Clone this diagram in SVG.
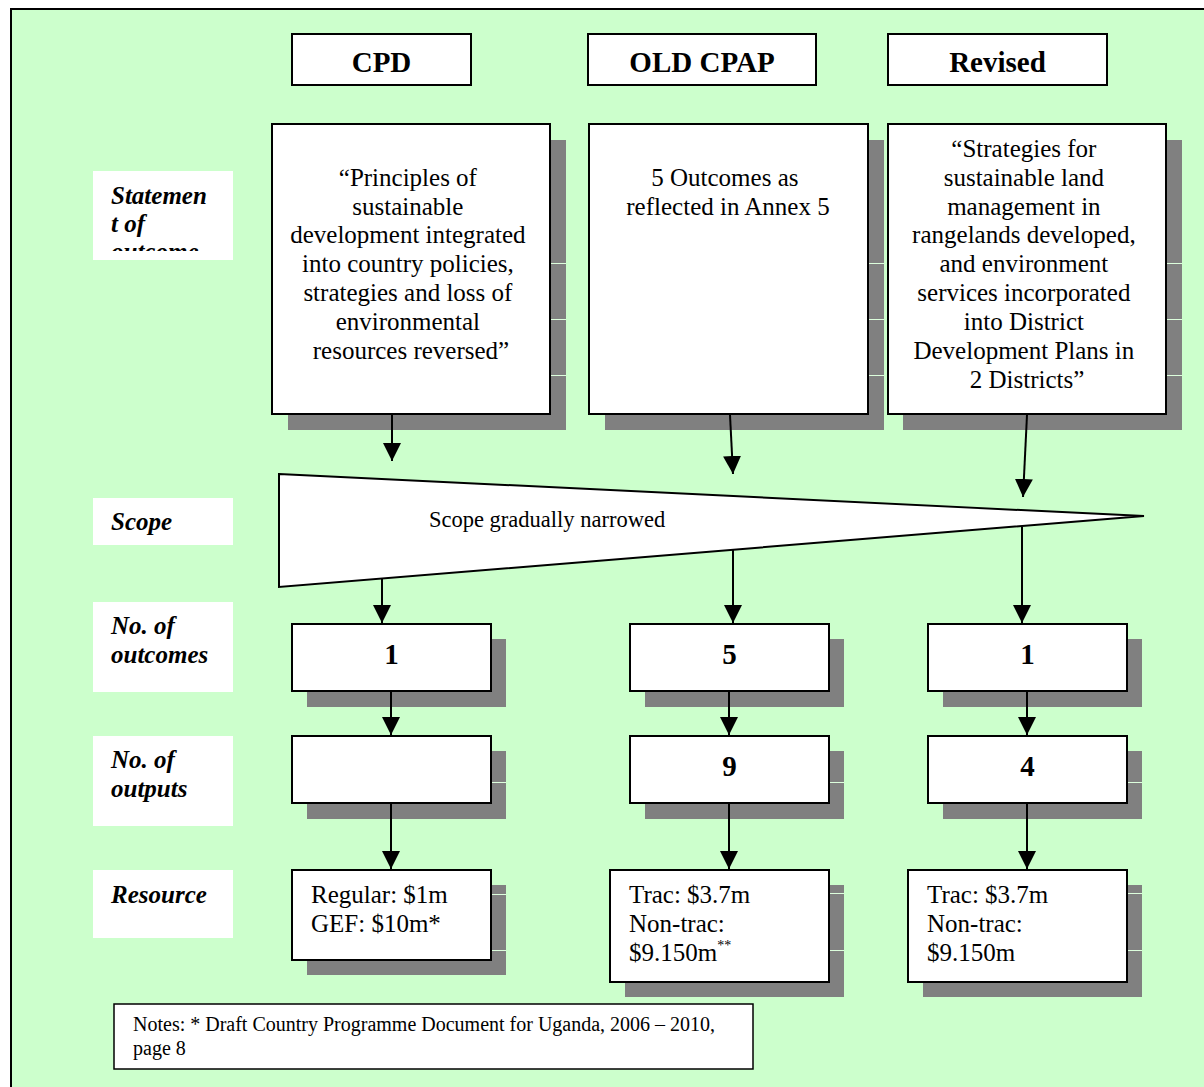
<svg xmlns="http://www.w3.org/2000/svg" width="1204" height="1087" viewBox="0 0 1204 1087">
  <defs>
    <marker id="arrow" viewBox="0 0 18 18" refX="18" refY="9" markerWidth="18" markerHeight="18" markerUnits="userSpaceOnUse" orient="auto">
      <path d="M0,0 L18,9 L0,18 z" fill="#000"/>
    </marker>
    <clipPath id="clipStatement">
      <rect x="93" y="171" width="140" height="80"/>
    </clipPath>
  </defs>
  <style>
    .box { fill: #fff; stroke: #000; stroke-width: 2; }
    .shadow { fill: #808080; }
    .seam { stroke: #ddffdd; stroke-width: 1; }
    .label { fill: #fff; }
    .head { font-family: "Liberation Serif", "Times New Roman", serif; font-size: 29px; font-weight: bold; text-anchor: middle; fill: #000; }
    .body { font-family: "Liberation Serif", "Times New Roman", serif; font-size: 25px; fill: #000; }
    .mid { text-anchor: middle; }
    .lab { font-family: "Liberation Serif", "Times New Roman", serif; font-size: 25px; font-weight: bold; font-style: italic; fill: #000; }
    .num { font-family: "Liberation Serif", "Times New Roman", serif; font-size: 29px; font-weight: bold; text-anchor: middle; fill: #000; }
    .small { font-family: "Liberation Serif", "Times New Roman", serif; font-size: 20px; fill: #000; }
    .conn { stroke: #000; stroke-width: 2; fill: none; marker-end: url(#arrow); }
  </style>

  <!-- page background and frame -->
  <rect x="0" y="0" width="1204" height="1087" fill="#fff"/>
  <rect x="11" y="9" width="1205" height="1090" fill="#ccffcc" stroke="#000" stroke-width="2"/>

  <!-- column headers -->
  <g id="head-cpd">
    <rect class="box" x="292" y="34" width="179" height="51"/>
    <text class="head" x="381.5" y="72">CPD</text>
  </g>
  <g id="head-old-cpap">
    <rect class="box" x="588" y="34" width="228" height="51"/>
    <text class="head" x="702" y="72">OLD CPAP</text>
  </g>
  <g id="head-revised">
    <rect class="box" x="888" y="34" width="219" height="51"/>
    <text class="head" x="997.5" y="72">Revised</text>
  </g>

  <!-- row labels -->
  <g id="label-statement">
    <rect class="label" x="93" y="171" width="140" height="89"/>
    <g clip-path="url(#clipStatement)">
      <text class="lab" x="111" y="204">Statemen</text>
      <text class="lab" x="111" y="232">t of</text>
      <text class="lab" x="111" y="260">outcome</text>
    </g>
  </g>
  <g id="label-scope">
    <rect class="label" x="93" y="498" width="140" height="47"/>
    <text class="lab" x="111" y="530">Scope</text>
  </g>
  <g id="label-outcomes">
    <rect class="label" x="93" y="602" width="140" height="90"/>
    <text class="lab" x="111" y="634">No. of</text>
    <text class="lab" x="111" y="663">outcomes</text>
  </g>
  <g id="label-outputs">
    <rect class="label" x="93" y="736" width="140" height="90"/>
    <text class="lab" x="111" y="768">No. of</text>
    <text class="lab" x="111" y="797">outputs</text>
  </g>
  <g id="label-resource">
    <rect class="label" x="93" y="870" width="140" height="68"/>
    <text class="lab" x="111" y="903">Resource</text>
  </g>

  <!-- statement of outcome boxes -->
  <g id="statement-cpd">
    <rect class="shadow" x="288" y="140" width="278" height="290"/>
    <line class="seam" x1="551" y1="263.5" x2="566" y2="263.5"/>
    <line class="seam" x1="551" y1="319.5" x2="566" y2="319.5"/>
    <line class="seam" x1="551" y1="375.5" x2="566" y2="375.5"/>
    <rect class="box" x="272" y="124" width="278" height="290"/>
    <text class="body mid" x="411">
      <tspan x="411" y="186">“Principles of</tspan>
      <tspan x="411" y="215">sustainable</tspan>
      <tspan x="411" y="243">development integrated</tspan>
      <tspan x="411" y="272">into country policies,</tspan>
      <tspan x="411" y="301">strategies and loss of</tspan>
      <tspan x="411" y="330">environmental</tspan>
      <tspan x="411" y="359">resources reversed”</tspan>
    </text>
  </g>
  <g id="statement-old-cpap">
    <rect class="shadow" x="605" y="140" width="279" height="290"/>
    <line class="seam" x1="869" y1="263.5" x2="884" y2="263.5"/>
    <line class="seam" x1="869" y1="319.5" x2="884" y2="319.5"/>
    <line class="seam" x1="869" y1="375.5" x2="884" y2="375.5"/>
    <rect class="box" x="589" y="124" width="279" height="290"/>
    <text class="body mid" x="728">
      <tspan x="728" y="186">5 Outcomes as</tspan>
      <tspan x="728" y="215">reflected in Annex 5</tspan>
    </text>
  </g>
  <g id="statement-revised">
    <rect class="shadow" x="903" y="140" width="279" height="290"/>
    <line class="seam" x1="1167" y1="263.5" x2="1182" y2="263.5"/>
    <line class="seam" x1="1167" y1="319.5" x2="1182" y2="319.5"/>
    <line class="seam" x1="1167" y1="375.5" x2="1182" y2="375.5"/>
    <rect class="box" x="888" y="124" width="278" height="290"/>
    <text class="body mid" x="1027">
      <tspan x="1027" y="157">“Strategies for</tspan>
      <tspan x="1027" y="186">sustainable land</tspan>
      <tspan x="1027" y="215">management in</tspan>
      <tspan x="1027" y="243">rangelands developed,</tspan>
      <tspan x="1027" y="272">and environment</tspan>
      <tspan x="1027" y="301">services incorporated</tspan>
      <tspan x="1027" y="330">into District</tspan>
      <tspan x="1027" y="359">Development Plans in</tspan>
      <tspan x="1027" y="388">2 Districts”</tspan>
    </text>
  </g>

  <!-- narrowing scope wedge -->
  <g id="scope">
    <polygon points="279,474 1144,516 279,587" fill="#fff" stroke="#000" stroke-width="2" stroke-linejoin="miter"/>
    <text x="429" y="527" font-family="Liberation Serif, Times New Roman, serif" font-size="22.5" fill="#000">Scope gradually narrowed</text>
  </g>

  <!-- number of outcomes -->
  <g id="outcomes-cpd">
    <rect class="shadow" x="307" y="639" width="199" height="68"/>
    <rect class="box" x="292" y="624" width="199" height="67"/>
    <text class="num" x="391.5" y="664">1</text>
  </g>
  <g id="outcomes-old-cpap">
    <rect class="shadow" x="645" y="639" width="199" height="68"/>
    <rect class="box" x="630" y="624" width="199" height="67"/>
    <text class="num" x="729.5" y="664">5</text>
  </g>
  <g id="outcomes-revised">
    <rect class="shadow" x="943" y="639" width="199" height="68"/>
    <rect class="box" x="928" y="624" width="199" height="67"/>
    <text class="num" x="1027.5" y="664">1</text>
  </g>

  <!-- number of outputs -->
  <g id="outputs-cpd">
    <rect class="shadow" x="307" y="751" width="199" height="68"/>
    <line class="seam" x1="492" y1="782.5" x2="506" y2="782.5"/>
    <rect class="box" x="292" y="736" width="199" height="67"/>
  </g>
  <g id="outputs-old-cpap">
    <rect class="shadow" x="645" y="751" width="199" height="68"/>
    <line class="seam" x1="830" y1="782.5" x2="844" y2="782.5"/>
    <rect class="box" x="630" y="736" width="199" height="67"/>
    <text class="num" x="729.5" y="776">9</text>
  </g>
  <g id="outputs-revised">
    <rect class="shadow" x="943" y="751" width="199" height="68"/>
    <line class="seam" x1="1128" y1="782.5" x2="1142" y2="782.5"/>
    <rect class="box" x="928" y="736" width="199" height="67"/>
    <text class="num" x="1027.5" y="776">4</text>
  </g>

  <!-- resources -->
  <g id="resource-cpd">
    <rect class="shadow" x="307" y="885" width="199" height="90"/>
    <line class="seam" x1="492" y1="894.5" x2="506" y2="894.5"/>
    <line class="seam" x1="492" y1="950.5" x2="506" y2="950.5"/>
    <rect class="box" x="292" y="870" width="199" height="90"/>
    <text class="body" x="311" y="903">Regular: $1m</text>
    <text class="body" x="311" y="932">GEF: $10m*</text>
  </g>
  <g id="resource-old-cpap">
    <rect class="shadow" x="625" y="885" width="219" height="112"/>
    <line class="seam" x1="830" y1="893.5" x2="844" y2="893.5"/>
    <line class="seam" x1="830" y1="950.5" x2="844" y2="950.5"/>
    <rect class="box" x="610" y="870" width="219" height="112"/>
    <text class="body" x="629" y="903">Trac: $3.7m</text>
    <text class="body" x="629" y="932">Non-trac:</text>
    <text class="body" x="629" y="961">$9.150m<tspan font-size="14" dy="-11">**</tspan></text>
  </g>
  <g id="resource-revised">
    <rect class="shadow" x="923" y="885" width="219" height="112"/>
    <line class="seam" x1="1128" y1="893.5" x2="1142" y2="893.5"/>
    <line class="seam" x1="1128" y1="950.5" x2="1142" y2="950.5"/>
    <rect class="box" x="908" y="870" width="219" height="112"/>
    <text class="body" x="927" y="903">Trac: $3.7m</text>
    <text class="body" x="927" y="932">Non-trac:</text>
    <text class="body" x="927" y="961">$9.150m</text>
  </g>

  <!-- footnote -->
  <g id="notes">
    <rect x="114" y="1004" width="639" height="65" fill="#fff" stroke="#000" stroke-width="1.5"/>
    <text class="small" x="133" y="1031">Notes: * Draft Country Programme Document for Uganda, 2006 – 2010,</text>
    <text class="small" x="133" y="1055">page 8</text>
  </g>

  <!-- connectors -->
  <g id="connectors">
    <line class="conn" x1="392" y1="415" x2="392" y2="461"/>
    <line class="conn" x1="730" y1="415" x2="733" y2="474"/>
    <line class="conn" x1="1027" y1="415" x2="1023" y2="497"/>
    <line class="conn" x1="382" y1="579" x2="382" y2="623"/>
    <line class="conn" x1="733" y1="550" x2="733" y2="623"/>
    <line class="conn" x1="1022" y1="527" x2="1022" y2="623"/>
    <line class="conn" x1="391" y1="692" x2="391" y2="735"/>
    <line class="conn" x1="729" y1="692" x2="729" y2="735"/>
    <line class="conn" x1="1027" y1="692" x2="1027" y2="735"/>
    <line class="conn" x1="391" y1="804" x2="391" y2="869"/>
    <line class="conn" x1="729" y1="804" x2="729" y2="869"/>
    <line class="conn" x1="1027" y1="804" x2="1027" y2="869"/>
  </g>
</svg>
